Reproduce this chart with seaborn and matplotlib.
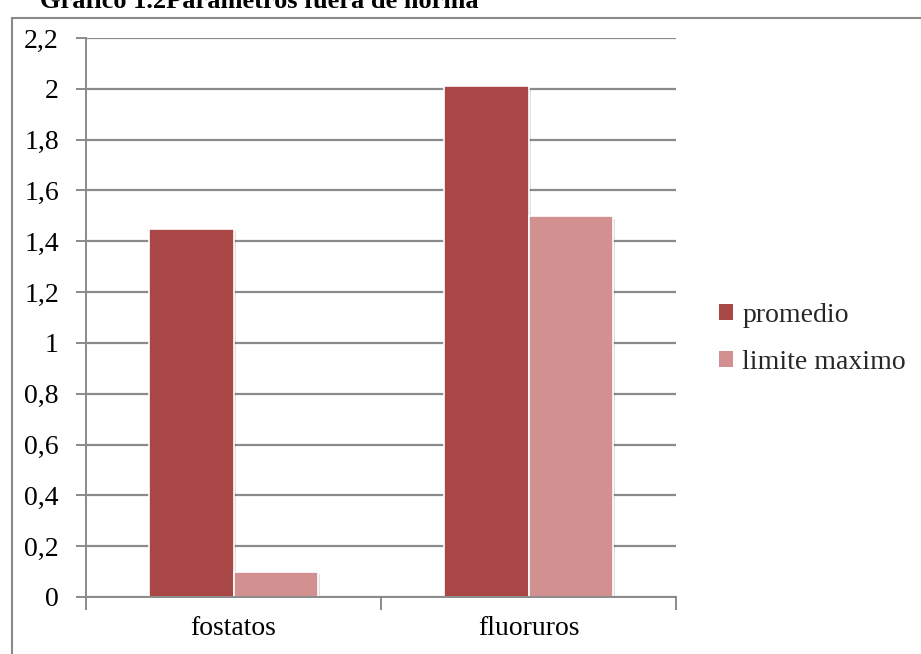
import matplotlib
matplotlib.use("Agg")
import matplotlib.pyplot as plt
import matplotlib.patheffects as pe
from matplotlib.patches import Rectangle
from matplotlib.ticker import FixedLocator
import seaborn as sns
import pandas as pd

categories = ["fostatos", "fluoruros"]
series_names = ["promedio", "limite maximo"]
promedio = [1.45, 2.01]
limite_maximo = [0.1, 1.5]
y_ticks = [0, 0.2, 0.4, 0.6, 0.8, 1, 1.2, 1.4, 1.6, 1.8, 2, 2.2]
title_text = "Gráfico 1.2Parámetros fuera de norma"

df = pd.DataFrame({
    "categoria": categories * 2,
    "serie": [series_names[0]] * 2 + [series_names[1]] * 2,
    "valor": promedio + limite_maximo,
})

sns.set_theme(style="white")
plt.rcParams["font.family"] = ["Liberation Serif", "DejaVu Serif"]

W, H = 921, 654
fig = plt.figure(figsize=(W / 100, H / 100), dpi=100)
ax = fig.add_axes([86 / W, 1 - 597 / H, (676 - 86) / W, (597 - 38) / H])

palette = {"promedio": "#A84745", "limite maximo": "#D29190"}
sns.barplot(data=df, x="categoria", y="valor", hue="serie", order=categories,
            hue_order=series_names, palette=palette, width=0.57, gap=0,
            saturation=1, edgecolor="white", linewidth=1.2, ax=ax, zorder=3)

for p in ax.patches:
    p.set_path_effects([pe.SimplePatchShadow(offset=(2, -2), shadow_rgbFace="#000000", alpha=0.12),
                        pe.Normal()])

ax.set_ylim(0, 2.2)
ax.set_xlim(-0.5, 1.5)
ax.yaxis.set_major_locator(FixedLocator(y_ticks))
ax.set_yticklabels([("%g" % v).replace(".", ",") for v in y_ticks])
ax.grid(axis="y", color="#8a8a8a", linewidth=1.6, zorder=0)
ax.set_axisbelow(True)
ax.set_xlabel("")
ax.set_ylabel("")

for s in ["top", "right"]:
    ax.spines[s].set_visible(False)
for s in ["left", "bottom"]:
    ax.spines[s].set_color("#8a8a8a")
    ax.spines[s].set_linewidth(1.4)
    ax.spines[s].set_zorder(4)

# category-boundary ticks on the x axis, labels at category centres
ax.set_xticks([0, 1])
ax.set_xticklabels(categories)
ax.set_xticks([-0.5, 0.5, 1.5], minor=True)
ax.tick_params(axis="x", which="major", length=0, pad=14, labelsize=20, colors="black")
ax.tick_params(axis="x", which="minor", length=9, width=1.4, color="#8a8a8a", direction="out", bottom=True)
ax.tick_params(axis="y", length=7.5, width=1.4, color="#8a8a8a", direction="out", left=True,
               pad=12, labelsize=20, labelcolor="black")

leg = ax.legend(loc="center left", bbox_to_anchor=(1.03, 0.462), frameon=False,
                fontsize=20, handlelength=0.5, handleheight=0.5, handletextpad=0.35,
                labelspacing=0.8)
for h in leg.legend_handles:
    h.set_path_effects([])
    h.set_edgecolor("none")

# outer chart frame
fig.patches.append(Rectangle((12 / W, -0.1), 1.2, 1 - 18 / H + 0.1, transform=fig.transFigure,
                             fill=False, edgecolor="#8a8a8a", linewidth=1.5))

fig.text(40 / W, 1 - 2 / H, title_text, fontsize=19, fontweight="bold",
         ha="left", va="center", color="black")

fig.savefig("out.png", dpi=100)
